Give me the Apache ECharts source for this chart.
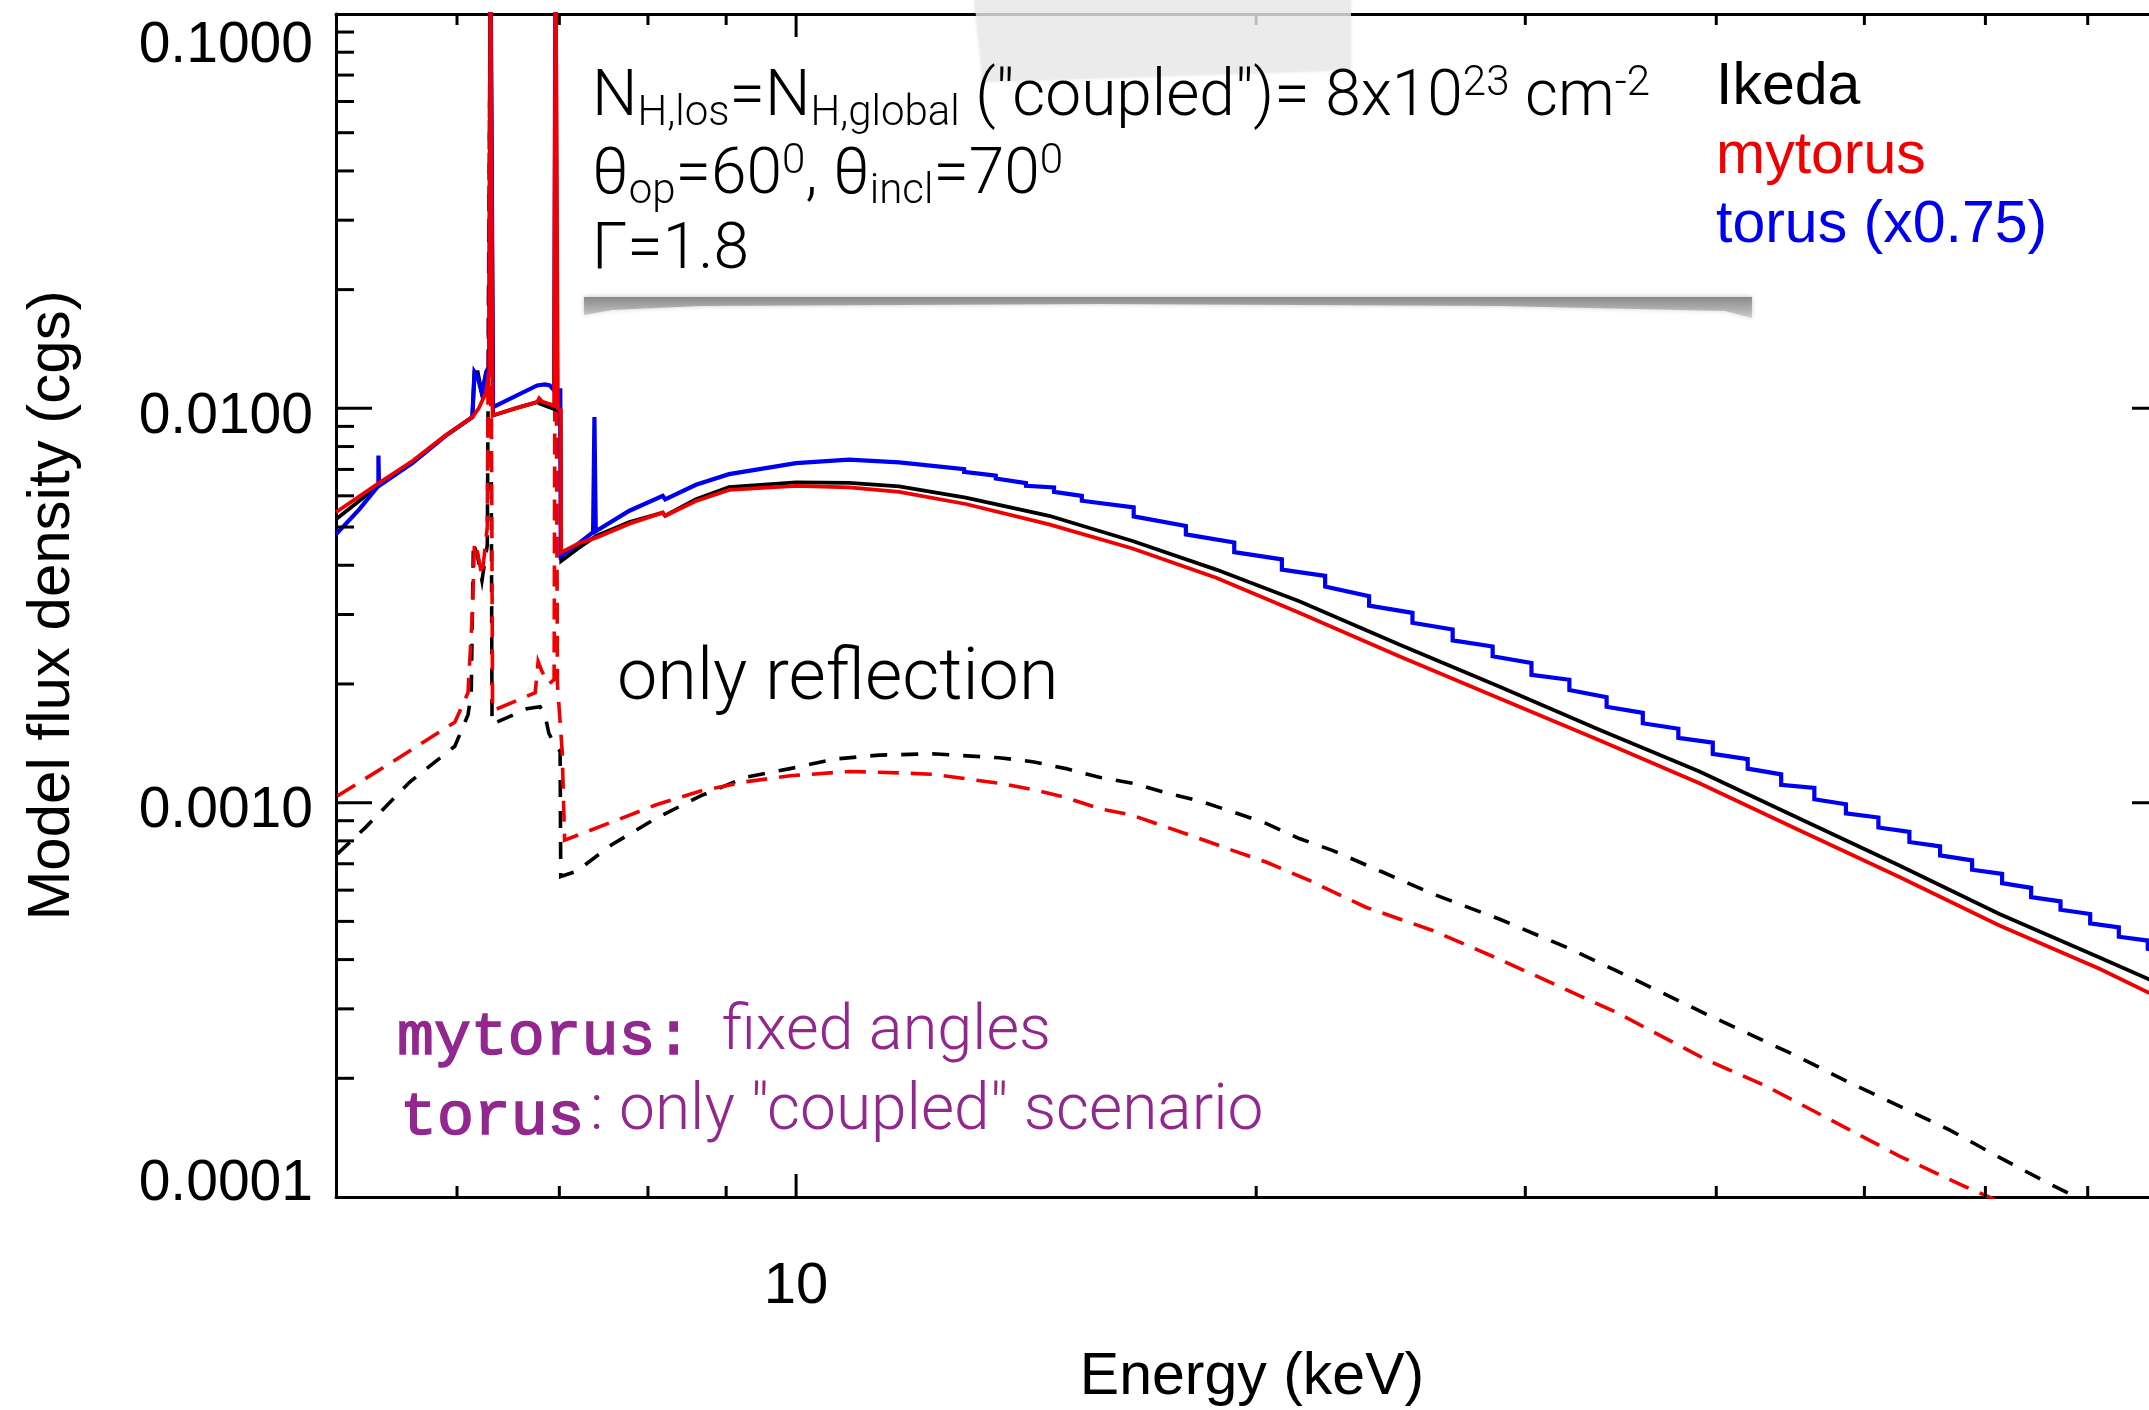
<!DOCTYPE html>
<html>
<head>
<meta charset="utf-8">
<title>Model flux density vs energy</title>
<script src="https://cdn.jsdelivr.net/npm/echarts@6/dist/echarts.min.js"></script>
<style>
  html, body { margin: 0; padding: 0; background: #ffffff; }
  #chart { width: 2149px; height: 1410px; }
</style>
</head>
<body>
<div id="chart"></div>
<script>
// Axis ranges (energy in keV, flux density in cgs)
const X_MIN = 5, X_MAX = 79;
const Y_MIN = 0.0001, Y_MAX = 0.1;

// Tick positions
const xMajorTicks = [10];
const xMinorTicks = [6, 7, 8, 9, 20, 30, 40, 50, 60, 70];
const yMajorTicks = [0.001, 0.01];
const yMinorTicks = [
  0.0002, 0.0003, 0.0004, 0.0005, 0.0006, 0.0007, 0.0008, 0.0009,
  0.002, 0.003, 0.004, 0.005, 0.006, 0.007, 0.008, 0.009,
  0.02, 0.03, 0.04, 0.05, 0.06, 0.07, 0.08, 0.09
];

// Total model spectra [E (keV), flux]
const ikedaTotal = [
  [5.00, 0.00523], [5.33, 0.00636], [5.61, 0.00729], [5.90, 0.00853], [6.14, 0.00950],
  [6.16, 0.01236], [6.19, 0.01236], [6.23, 0.01089], [6.27, 0.01236], [6.30, 0.0128],
  [6.31, 0.16], [6.335, 0.00959], [6.55, 0.01000], [6.77, 0.01037], [6.80, 0.01027],
  [6.95, 0.00995], [7.01, 0.00987], [7.02, 0.00410], [7.21, 0.00443], [7.40, 0.00475],
  [7.78, 0.00515], [8.18, 0.00544], [8.20, 0.00546], [8.21, 0.00534], [8.60, 0.00588],
  [9.04, 0.00631], [10.0, 0.00649], [10.83, 0.00647], [11.68, 0.00634], [12.91, 0.00594],
  [14.64, 0.00534], [16.60, 0.00461], [18.83, 0.00390], [21.34, 0.00324], [24.81, 0.00252],
  [28.84, 0.00197], [33.54, 0.00153], [39.00, 0.00120], [45.33, 0.000912], [52.71, 0.000693],
  [61.28, 0.000522], [71.25, 0.000405], [76.70, 0.000357], [79.0, 0.000340]
];

const mytorusTotal = [
  [5.00, 0.00545], [5.33, 0.00645], [5.61, 0.00735], [5.90, 0.00855], [6.14, 0.00950],
  [6.20, 0.01000], [6.27, 0.01100], [6.30, 0.01250], [6.31, 0.16], [6.33, 0.00959],
  [6.55, 0.01000], [6.77, 0.01037], [6.79, 0.01060], [6.82, 0.01040], [6.945, 0.01016],
  [6.96, 0.16], [6.985, 0.01000], [7.015, 0.00990], [7.02, 0.00431], [7.21, 0.00455],
  [7.40, 0.00470], [7.78, 0.00510], [8.18, 0.00544], [8.20, 0.00546], [8.21, 0.00534],
  [8.60, 0.00582], [9.04, 0.00621], [10.0, 0.00636], [10.83, 0.00630], [11.68, 0.00614],
  [12.91, 0.00572], [14.64, 0.00508], [16.60, 0.00441], [18.83, 0.00372], [21.34, 0.00303],
  [24.81, 0.00235], [28.84, 0.00184], [33.54, 0.00144], [39.00, 0.00112], [45.33, 0.000851],
  [52.71, 0.000648], [61.28, 0.000488], [71.25, 0.000379], [76.70, 0.000330], [79.0, 0.000314]
];

// torus model, already scaled by 0.75; coarse energy grid gives the staircase
const torusTotal = [
  [5.00, 0.00479], [5.18, 0.00555], [5.33, 0.00636], [5.33, 0.00759], [5.335, 0.00636],
  [5.61, 0.00726], [5.90, 0.00853], [6.14, 0.00950], [6.16, 0.01236], [6.19, 0.01200],
  [6.23, 0.01089], [6.27, 0.01236], [6.30, 0.0128], [6.31, 0.16], [6.335, 0.01007],
  [6.77, 0.01143], [6.79, 0.01154], [6.85, 0.01150], [6.90, 0.01143], [6.945, 0.01110],
  [6.96, 0.16], [6.975, 0.01110], [7.01, 0.01110], [7.015, 0.00422], [7.21, 0.00455],
  [7.365, 0.00485], [7.38, 0.00950], [7.395, 0.00488], [7.78, 0.00550], [8.18, 0.00600],
  [8.20, 0.00600], [8.21, 0.00588], [8.60, 0.00640], [9.04, 0.00681], [10.0, 0.00726],
  [10.83, 0.00741], [11.68, 0.00729],
  [12.88, 0.00701], [12.88, 0.00690], [13.51, 0.00675], [13.51, 0.00664],
  [14.14, 0.00646], [14.14, 0.00636], [14.75, 0.00630], [14.75, 0.00614],
  [15.38, 0.00600], [15.38, 0.00583], [16.63, 0.00561], [16.63, 0.00532],
  [17.99, 0.00503], [17.99, 0.00479], [19.35, 0.00457], [19.35, 0.00432],
  [20.79, 0.00414], [20.79, 0.00390], [22.19, 0.00376], [22.19, 0.00353],
  [23.71, 0.00334], [23.71, 0.00316], [25.31, 0.00303], [25.31, 0.00286],
  [26.89, 0.00275], [26.89, 0.00258], [28.56, 0.00249], [28.56, 0.00235],
  [30.28, 0.00226], [30.28, 0.00211], [32.06, 0.00205], [32.06, 0.00193],
  [33.91, 0.00185], [33.91, 0.00175], [35.81, 0.00169], [35.81, 0.00159],
  [37.78, 0.00154], [37.78, 0.00146], [39.79, 0.00142], [39.79, 0.00133],
  [41.94, 0.00129], [41.94, 0.00122], [44.11, 0.00118], [44.11, 0.00111],
  [46.37, 0.00109], [46.37, 0.00102], [48.63, 0.000991], [48.63, 0.000939],
  [51.07, 0.000917], [51.07, 0.000865], [53.51, 0.000843], [53.51, 0.000795],
  [56.04, 0.000775], [56.04, 0.000735], [58.81, 0.000714], [58.81, 0.000676],
  [61.53, 0.000660], [61.53, 0.000625], [64.28, 0.000608], [64.28, 0.000576],
  [67.19, 0.000562], [67.19, 0.000535], [70.26, 0.000522], [70.26, 0.000494],
  [73.36, 0.000483], [73.36, 0.000457], [76.63, 0.000447], [76.63, 0.000426],
  [79.0, 0.000415]
];

// Reflection-only components
const ikedaReflection = [
  [5.01, 0.000741], [5.23, 0.000867], [5.59, 0.00113], [5.98, 0.00139], [6.10, 0.00167],
  [6.13, 0.00190], [6.15, 0.00457], [6.19, 0.00420], [6.23, 0.00366], [6.28, 0.00450],
  [6.305, 0.0800], [6.325, 0.00158], [6.665, 0.00173], [6.80, 0.00175], [6.85, 0.00167],
  [6.89, 0.00150], [6.96, 0.00139], [7.008, 0.00135], [7.015, 0.000650], [7.18, 0.000669],
  [7.57, 0.000781], [8.10, 0.000913], [8.66, 0.00104], [9.27, 0.00116], [9.91, 0.00122],
  [10.60, 0.00129], [11.33, 0.00132], [12.28, 0.00133], [13.58, 0.00130], [14.28, 0.00127],
  [15.02, 0.00122], [15.79, 0.00116], [16.60, 0.00112], [17.46, 0.00106], [18.36, 0.00101],
  [19.30, 0.000948], [20.30, 0.000886], [21.34, 0.000811], [22.43, 0.000757], [24.19, 0.000667],
  [26.09, 0.000587], [28.84, 0.000507], [31.90, 0.000430], [34.40, 0.000375], [39.39, 0.000291],
  [42.05, 0.000259], [45.33, 0.000226], [48.88, 0.000195], [52.71, 0.000170], [56.83, 0.000148],
  [61.28, 0.000126], [66.08, 0.000108], [68.77, 0.000100], [72.0, 0.000091]
];

const mytorusReflection = [
  [5.01, 0.00104], [5.41, 0.00125], [5.98, 0.00160], [6.10, 0.00190], [6.14, 0.00300],
  [6.16, 0.00457], [6.19, 0.00430], [6.23, 0.00375], [6.28, 0.00500], [6.305, 0.0900],
  [6.33, 0.00171], [6.75, 0.00190], [6.78, 0.00228], [6.82, 0.00215], [6.89, 0.00200],
  [6.945, 0.00205], [6.96, 0.0500], [6.98, 0.00200], [7.03, 0.00135], [7.056, 0.000803],
  [7.57, 0.000892], [8.10, 0.000988], [8.66, 0.00107], [9.27, 0.00113], [9.91, 0.00117],
  [10.83, 0.00120], [11.68, 0.00119], [12.28, 0.00118], [12.91, 0.00115], [13.58, 0.00112],
  [14.28, 0.00108], [15.02, 0.00103], [15.79, 0.000966], [16.60, 0.000929], [17.46, 0.000868],
  [18.36, 0.000811], [19.30, 0.000757], [20.30, 0.000707], [21.67, 0.000635], [23.59, 0.000543],
  [26.09, 0.000474], [28.84, 0.000401], [30.33, 0.000367], [34.40, 0.000294], [39.39, 0.000223],
  [43.12, 0.000191], [47.66, 0.000156], [52.71, 0.000127], [58.28, 0.000106], [60.58, 0.0000993],
  [64.0, 0.000088]
];

const FONT_SANS = '"Liberation Sans", Arial, Helvetica, sans-serif';
const FONT_LIGHT = 'Roboto, "Liberation Sans", Arial, sans-serif';
const FONT_MONO = '"Liberation Mono", "Courier New", monospace';
const PURPLE = '#92278f';
const RED = '#f00000';
const BLUE = '#0000f0';

const chart = echarts.init(document.getElementById('chart'), null, { renderer: 'canvas' });

function tickSeries(values, isX, len) {
  return {
    type: 'custom',
    silent: true,
    clip: false,
    z: 6,
    xAxisIndex: 0,
    yAxisIndex: 0,
    data: values.map(v => isX ? [v, Y_MIN] : [X_MIN, v]),
    renderItem: function (params, api) {
      const st = { stroke: '#000', lineWidth: 3 };
      if (isX) {
        const v = api.value(0);
        const b = api.coord([v, Y_MIN]);
        const t = api.coord([v, Y_MAX]);
        return { type: 'group', children: [
          { type: 'line', shape: { x1: b[0], y1: b[1], x2: b[0], y2: b[1] - len }, style: st },
          { type: 'line', shape: { x1: t[0], y1: t[1], x2: t[0], y2: t[1] + len }, style: st }
        ]};
      }
      const v = api.value(1);
      const l = api.coord([X_MIN, v]);
      const r = api.coord([X_MAX, v]);
      return { type: 'group', children: [
        { type: 'line', shape: { x1: l[0], y1: l[1], x2: l[0] + len, y2: l[1] }, style: st },
        { type: 'line', shape: { x1: r[0], y1: r[1], x2: r[0] - len, y2: r[1] }, style: st }
      ]};
    }
  };
}

function lineSeries(name, data, color, width, dash, z) {
  return {
    name: name,
    type: 'line',
    data: data,
    showSymbol: false,
    symbol: 'none',
    clip: true,
    z: z,
    lineStyle: { color: color, width: width, type: dash || 'solid', cap: 'butt', join: 'miter' },
    itemStyle: { color: color },
    emphasis: { disabled: true },
    animation: false
  };
}

const richNote = {
  m: { fontSize: 64, fontFamily: FONT_LIGHT, fontWeight: 300, lineHeight: 72, fill: '#000', color: '#000' },
  s: { fontSize: 42, fontFamily: FONT_LIGHT, fontWeight: 300, lineHeight: 42, verticalAlign: 'bottom', fill: '#000', color: '#000' },
  p: { fontSize: 42, fontFamily: FONT_LIGHT, fontWeight: 300, lineHeight: 42, verticalAlign: 'top', fill: '#000', color: '#000' }
};

function noteText(x, y, text) {
  return {
    type: 'text', x: x, y: y, z: 70, silent: true,
    style: {
      text: text, rich: richNote,
      fontSize: 64, fontFamily: FONT_LIGHT, fontWeight: 300, fill: '#000',
      align: 'left', verticalAlign: 'middle', textAlign: 'left', textVerticalAlign: 'middle'
    }
  };
}

function plainText(x, y, text, font, size, weight, color, stroke) {
  const style = {
    text: text, fontSize: size, fontFamily: font, fontWeight: weight, fill: color,
    align: 'left', verticalAlign: 'middle', textAlign: 'left', textVerticalAlign: 'middle'
  };
  if (stroke) { style.stroke = color; style.lineWidth = stroke; }
  return { type: 'text', x: x, y: y, z: 70, silent: true, style: style };
}

const axisLineStyle = { lineStyle: { color: '#000', width: 3 } };

const option = {
  backgroundColor: '#ffffff',
  animation: false,
  grid: { left: 336, right: -19, top: 14, bottom: 213, containLabel: false, outerBoundsMode: 'none' },
  legend: {
    orient: 'vertical',
    left: 1706, top: 53,
    icon: 'none',
    itemWidth: 0, itemHeight: 0, itemGap: 10,
    selectedMode: false,
    textStyle: { fontSize: 59, fontFamily: FONT_SANS, lineHeight: 59, padding: 0 },
    data: [
      { name: 'Ikeda', textStyle: { color: '#000' } },
      { name: 'mytorus', textStyle: { color: RED } },
      { name: 'torus (x0.75)', textStyle: { color: BLUE } }
    ]
  },
  xAxis: [
    {
      type: 'log', logBase: 10, min: X_MIN, max: X_MAX, position: 'bottom',
      name: 'Energy (keV)', nameLocation: 'middle', nameGap: 151, nameMoveOverlap: false,
      nameTextStyle: { fontSize: 59, fontFamily: FONT_SANS, color: '#000' },
      axisLine: axisLineStyle, axisTick: { show: false }, splitLine: { show: false }, minorTick: { show: false },
      axisLabel: {
        margin: 61, fontSize: 58, fontFamily: FONT_SANS, color: '#000', hideOverlap: false,
        formatter: function (v) {
          const e = Math.log10(v);
          return Math.abs(e - Math.round(e)) < 1e-6 ? String(Math.round(v)) : '';
        }
      }
    },
    {
      type: 'log', logBase: 10, min: X_MIN, max: X_MAX, position: 'top',
      axisLine: axisLineStyle, axisTick: { show: false }, axisLabel: { show: false }, splitLine: { show: false }
    }
  ],
  yAxis: [
    {
      type: 'log', logBase: 10, min: Y_MIN, max: Y_MAX, position: 'left',
      name: 'Model flux density (cgs)', nameLocation: 'middle', nameGap: 254, nameMoveOverlap: false,
      nameTextStyle: { fontSize: 60, fontFamily: FONT_SANS, color: '#000' },
      axisLine: axisLineStyle, axisTick: { show: false }, splitLine: { show: false }, minorTick: { show: false },
      axisLabel: {
        margin: 23, fontSize: 57, fontFamily: FONT_SANS, color: '#000', hideOverlap: false,
        showMinLabel: true, showMaxLabel: true,
        formatter: function (v) {
          const e = Math.round(Math.log10(v));
          const key = e === -1 ? 'hi' : (e === -4 ? 'lo' : 'mid');
          return '{' + key + '|' + v.toFixed(4) + '}';
        },
        rich: {
          hi: { fontSize: 57, fontFamily: FONT_SANS, color: '#000', padding: [64, 0, 0, 0] },
          mid: { fontSize: 57, fontFamily: FONT_SANS, color: '#000', padding: [18, 0, 0, 0] },
          lo: { fontSize: 57, fontFamily: FONT_SANS, color: '#000', padding: [0, 0, 26, 0] }
        }
      }
    },
    {
      type: 'log', logBase: 10, min: Y_MIN, max: Y_MAX, position: 'right',
      axisLine: axisLineStyle, axisTick: { show: false }, axisLabel: { show: false }, splitLine: { show: false }
    }
  ],
  series: [
    lineSeries('Ikeda reflection', ikedaReflection, '#000', 3.6, [17, 14], 2),
    lineSeries('mytorus reflection', mytorusReflection, RED, 3.6, [21, 12], 3),
    lineSeries('Ikeda', ikedaTotal, '#000', 3.8, null, 4),
    lineSeries('torus (x0.75)', torusTotal, BLUE, 4.2, null, 5),
    lineSeries('mytorus', mytorusTotal, RED, 3.8, null, 6),
    tickSeries(xMinorTicks, true, 11),
    tickSeries(xMajorTicks, true, 23),
    tickSeries(yMinorTicks, false, 18),
    tickSeries(yMajorTicks, false, 36)
  ],
  graphic: {
    elements: [
      // drop shadow under the parameter note
      {
        type: 'polygon', z: 40, silent: true,
        shape: { points: [[584, 297], [1752, 297], [1752, 318], [1725, 311], [1500, 306], [1100, 304], [700, 306], [612, 310], [584, 315]] },
        style: {
          fill: { type: 'linear', x: 0, y: 0, x2: 0, y2: 1,
            colorStops: [{ offset: 0, color: '#8a8a8a' }, { offset: 1, color: 'rgba(175,175,175,0.5)' }] },
          shadowBlur: 5, shadowColor: 'rgba(0,0,0,0.25)'
        }
      },
      // strip of tape at the top
      {
        type: 'polygon', z: 60, silent: true,
        shape: { points: [[974, -2], [1351, -2], [1351, 70], [983, 82]] },
        style: { fill: 'rgba(236,236,236,0.80)', shadowBlur: 3, shadowColor: 'rgba(0,0,0,0.12)' }
      },
      noteText(592, 99, '{m|N}{s|H,los}{m|=N}{s|H,global}{m| ("coupled")= 8x10}{p|23}{m| cm}{p|-2}'),
      noteText(592, 177, '{m|\u03b8}{s|op}{m|=60}{p|0}{m|, \u03b8}{s|incl}{m|=70}{p|0}'),
      noteText(592, 252, '{m|\u0393=1.8}'),
      plainText(617, 681, 'only reflection', FONT_LIGHT, 72, 300, '#000'),
      plainText(397, 1038, 'mytorus:', FONT_MONO, 61.5, 'normal', PURPLE, 1.6),
      plainText(722, 1033, 'fixed angles', FONT_LIGHT, 63, 300, PURPLE),
      plainText(400, 1118, 'torus', FONT_MONO, 61.5, 'normal', PURPLE, 1.6),
      plainText(590, 1113, ': only "coupled" scenario', FONT_LIGHT, 64, 300, PURPLE)
    ]
  }
};

chart.setOption(option);
</script>
</body>
</html>
